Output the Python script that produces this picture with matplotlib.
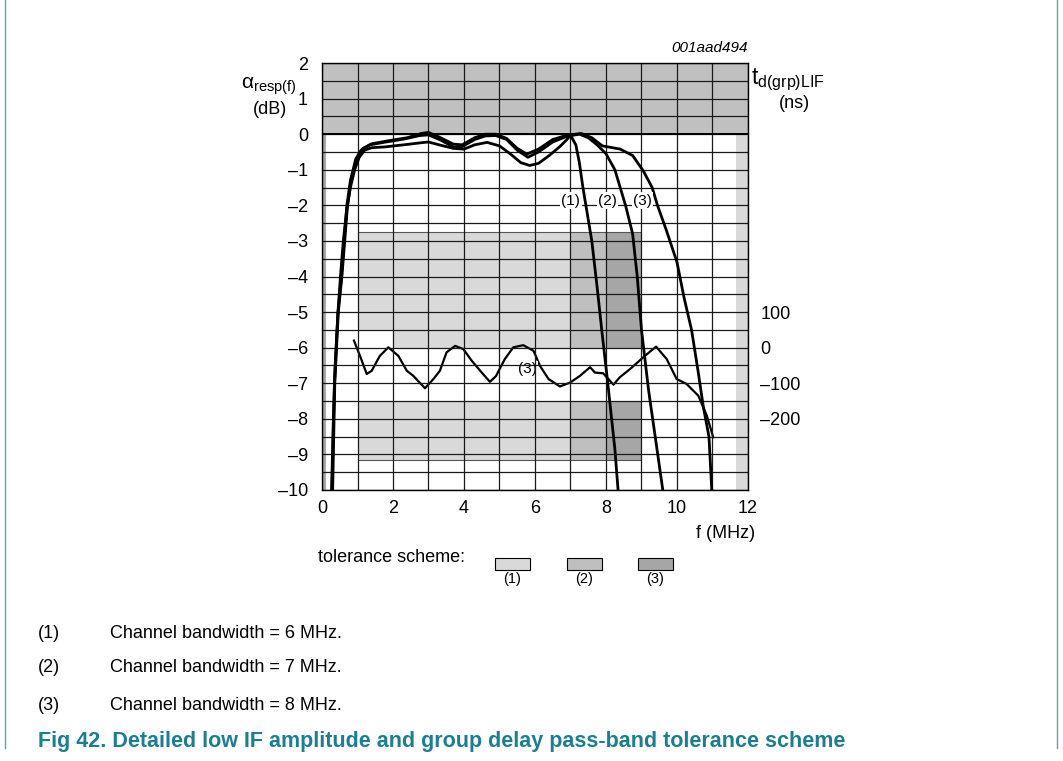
import matplotlib
matplotlib.use("Agg")
import matplotlib.pyplot as plt
import matplotlib.patches as patches
from matplotlib.ticker import FuncFormatter, MultipleLocator
import numpy as np

plt.rcParams['font.family'] = ['Liberation Sans', 'DejaVu Sans']
plt.rcParams['mathtext.fontset'] = 'custom'
plt.rcParams['mathtext.rm'] = 'Liberation Sans'
plt.rcParams['mathtext.it'] = 'Liberation Sans:italic'
plt.rcParams['mathtext.default'] = 'regular'

# amplitude response (MHz, dB)
f1 = [0.27, 0.32, 0.37, 0.45, 0.52, 0.6, 0.7, 0.8, 0.92, 1.05, 1.2, 1.4, 1.75, 2.3, 2.8, 3.0,
      3.3, 3.7, 4.0, 4.3, 4.65, 5.0, 5.3, 5.6, 5.85, 6.1, 6.4, 6.7, 6.9, 7.0, 7.15, 7.25, 7.35,
      7.45, 7.6, 7.75, 7.88, 8.05, 8.25, 8.34]
a1 = [-10, -8, -6.5, -5, -4, -3, -2.1, -1.5, -1.0, -0.65, -0.45, -0.38, -0.36, -0.3, -0.24, -0.22,
      -0.3, -0.4, -0.42, -0.3, -0.23, -0.33, -0.55, -0.8, -0.88, -0.82, -0.6, -0.35, -0.15, -0.03, -0.3, -0.8, -1.5,
      -2.1, -3.0, -4.3, -5.5, -7.0, -8.85, -10]
f2 = [0.28, 0.35, 0.45, 0.55, 0.62, 0.7, 0.8, 0.95, 1.1, 1.35, 1.8, 2.3, 2.75, 3.0, 3.35,
      3.7, 3.95, 4.3, 4.6, 4.9, 5.2, 5.5, 5.8, 6.1, 6.5, 6.9, 7.25, 7.5, 7.75, 8.0, 8.25,
      8.55, 8.75, 8.88, 9.0, 9.2, 9.4, 9.6]
a2 = [-10, -7, -5, -4, -3, -2, -1.3, -0.7, -0.45, -0.3, -0.22, -0.14, -0.04, -0.02, -0.17,
      -0.36, -0.35, -0.15, -0.05, -0.04, -0.15, -0.45, -0.65, -0.5, -0.22, -0.06, 0.0, -0.1, -0.3, -0.55, -1.0,
      -2.0, -2.8, -4.0, -5.5, -7.2, -8.6, -10]
f3 = [0.3, 0.36, 0.46, 0.56, 0.64, 0.72, 0.82, 0.97, 1.15, 1.4, 1.9, 2.4, 2.8, 3.0, 3.3,
      3.7, 3.95, 4.3, 4.6, 4.9, 5.2, 5.5, 5.77, 6.1, 6.5, 6.9, 7.3, 7.6, 7.9, 8.4, 8.75,
      9.05, 9.3, 9.45, 9.7, 10.0, 10.2, 10.41, 10.6, 10.74, 10.9, 10.98]
a3 = [-10, -7, -5, -4, -3, -2, -1.3, -0.75, -0.4, -0.27, -0.18, -0.1, 0.02, 0.05, -0.08,
      -0.28, -0.3, -0.1, 0.0, 0.0, -0.12, -0.4, -0.56, -0.42, -0.15, -0.03, 0.02, -0.1, -0.33, -0.42, -0.6,
      -1.03, -1.5, -2.0, -2.7, -3.6, -4.6, -5.5, -6.7, -7.65, -8.5, -10]

# group delay, channel (3) (MHz, ns)
gd_f = [0.9, 1.07, 1.26, 1.4, 1.63, 1.87, 2.15, 2.39, 2.57, 2.9, 3.14, 3.32, 3.51, 3.75, 3.98,
        4.22, 4.5, 4.73, 4.9, 5.15, 5.39, 5.67, 5.96, 6.14, 6.38, 6.7, 6.99, 7.27, 7.55, 7.69,
        7.92, 8.21, 8.39, 8.68, 9.05, 9.41, 9.71, 9.99, 10.27, 10.6, 10.84, 11.02]
gd_ns = [20, -23, -74, -65, -23, 1, -23, -65, -79, -114, -88, -65, -13, 5, -4,
         -37, -70, -96, -80, -32, 1, 7, -9, -51, -88, -109, -98, -79, -55, -70,
         -72, -104, -83, -60, -27, 3, -32, -88, -102, -135, -191, -252]

# tolerance schemes
scheme_edges = [1, 7, 8, 9]
scheme_colors = ['#d9d9d9', '#bfbfbf', '#a6a6a6']
scheme_names = ['(1)', '(2)', '(3)']
gd_upper = (0, 325)
gd_upper_notch = (1, 2, 50)   # x from, x to, raised bottom
gd_lower = (-315, -150)
amp_band = (0, 2)
left_strip = (0, 0.12)
right_strip = (11.65, 12)

notes = ['Channel bandwidth = 6 MHz.', 'Channel bandwidth = 7 MHz.', 'Channel bandwidth = 8 MHz.']
title = 'Fig 42. Detailed low IF amplitude and group delay pass-band tolerance scheme'

W, H = 1063, 761
fig = plt.figure(figsize=(W / 100, H / 100), dpi=100)
rect = [322 / W, 271 / H, 426 / W, 427 / H]

def px(x, y):
    return x / W, 1 - y / H

# back axes: group delay (ns)
ax2 = fig.add_axes(rect, zorder=0)
ax2.set_xlim(0, 12)
ax2.set_ylim(-400, 800)
for i in range(3):
    x0, x1 = scheme_edges[i], scheme_edges[i + 1]
    if i == 0:
        nx0, nx1, nb = gd_upper_notch
        ax2.bar(nx0, gd_upper[1] - nb, bottom=nb, width=nx1 - nx0, align='edge',
                color=scheme_colors[0], edgecolor='none')
        ax2.bar(nx1, gd_upper[1] - gd_upper[0], bottom=gd_upper[0], width=x1 - nx1, align='edge',
                color=scheme_colors[0], edgecolor='none')
    else:
        ax2.bar(x0, gd_upper[1] - gd_upper[0], bottom=gd_upper[0], width=x1 - x0, align='edge',
                color=scheme_colors[i], edgecolor='none')
    ax2.bar(x0, gd_lower[1] - gd_lower[0], bottom=gd_lower[0], width=x1 - x0, align='edge',
            color=scheme_colors[i], edgecolor='none')
ax2.hlines([gd_upper[1], gd_lower[0]], scheme_edges[0], scheme_edges[-1], color='#555555', lw=0.8)
ax2.plot(gd_f, gd_ns, color='black', lw=1.6, solid_joinstyle='round')
ax2.text(5.79, -60, '(3)', fontsize=11, ha='center', va='center',
         bbox=dict(facecolor='white', edgecolor='none', pad=0.5))
ax2.set_yticks([100, 0, -100, -200])
ax2.yaxis.tick_right()
ax2.yaxis.set_major_formatter(FuncFormatter(lambda v, p: f'{v:.0f}'.replace('-', '\u2013')))
ax2.tick_params(axis='y', length=0, pad=9, labelsize=13)
ax2.set_xticks([])
for s in ax2.spines.values():
    s.set_visible(False)

# front axes: amplitude (dB)
ax = fig.add_axes(rect, zorder=1)
ax.patch.set_visible(False)
ax.set_xlim(0, 12)
ax.set_ylim(-10, 2)
ax.bar(0, amp_band[1] - amp_band[0], bottom=amp_band[0], width=12, align='edge',
       color='#c0c0c0', edgecolor='none')
ax.bar(left_strip[0], -10, width=left_strip[1] - left_strip[0], align='edge',
       color='#a8a8a8', edgecolor='none')
ax.bar(right_strip[0], -10, width=right_strip[1] - right_strip[0], align='edge',
       color='#d9d9d9', edgecolor='none')
ax.axhline(0, color='black', lw=1.4, zorder=1.6)

ax.xaxis.set_major_locator(MultipleLocator(2))
ax.xaxis.set_minor_locator(MultipleLocator(1))
ax.yaxis.set_major_locator(MultipleLocator(1))
ax.yaxis.set_minor_locator(MultipleLocator(0.5))
ax.grid(True, which='both', color='#1a1a1a', lw=0.9)
ax.tick_params(which='both', length=0, labelsize=13)
ax.tick_params(axis='y', pad=10)
ax.tick_params(axis='x', pad=7)
fmt = FuncFormatter(lambda v, p: f'{v:.0f}'.replace('-', '\u2013'))
ax.xaxis.set_major_formatter(fmt)
ax.yaxis.set_major_formatter(fmt)
for s in ax.spines.values():
    s.set_color('black')
    s.set_linewidth(1.0)

for f, a in [(f1, a1), (f2, a2), (f3, a3)]:
    ax.plot(f, a, color='black', lw=2.0, solid_joinstyle='round', solid_capstyle='butt')

for xl, name in zip([7.01, 8.04, 9.03], scheme_names):
    ax.text(xl, -1.87, name, fontsize=11, ha='center', va='center',
            bbox=dict(facecolor='white', edgecolor='none', pad=1.0))

# axis titles
fig.text(*px(241, 86), r'$\alpha_{resp(f)}$', fontsize=15, ha='left', va='center')
fig.text(*px(270, 109), '(dB)', fontsize=13, ha='center', va='center')
fig.text(*px(751, 80), r'$t_{d(grp)LIF}$', fontsize=16.5, ha='left', va='center')
fig.text(*px(794, 103), '(ns)', fontsize=13, ha='center', va='center')
fig.text(*px(748, 48), '001aad494', fontsize=11, style='italic', ha='right', va='center')
fig.text(*px(755, 533), 'f (MHz)', fontsize=13, ha='right', va='center')

# tolerance scheme key
fig.text(*px(318, 558), 'tolerance scheme:', fontsize=13, ha='left', va='center')
for cx, c, name in zip([512.5, 584, 655.5], scheme_colors, scheme_names):
    x0, y0 = px(cx - 17.5, 570)
    fig.patches.append(patches.Rectangle((x0, y0), 35 / W, 12 / H, transform=fig.transFigure,
                                         facecolor=c, edgecolor='black', lw=0.8))
    fig.text(*px(cx, 579), name, fontsize=10.5, ha='center', va='center')

# notes and caption
for i, (name, note) in enumerate(zip(scheme_names, notes)):
    yy = [633, 668, 705][i]
    fig.text(*px(38, yy), name, fontsize=13, ha='left', va='center')
    fig.text(*px(110, yy), note, fontsize=13, ha='left', va='center')
fig.text(*px(38, 741), title, fontsize=15.5, fontweight='bold', color='#1a7f93',
         ha='left', va='center')

fig.add_artist(plt.Line2D([5 / W, 5 / W], [1, 1 - 748 / H], transform=fig.transFigure,
                          color='#5ba3b8', lw=1.0))
fig.add_artist(plt.Line2D([1057 / W, 1057 / W], [1, 1 - 748 / H], transform=fig.transFigure,
                          color='#5ba3b8', lw=1.0))

fig.savefig('out.png', dpi=100, facecolor='white')
